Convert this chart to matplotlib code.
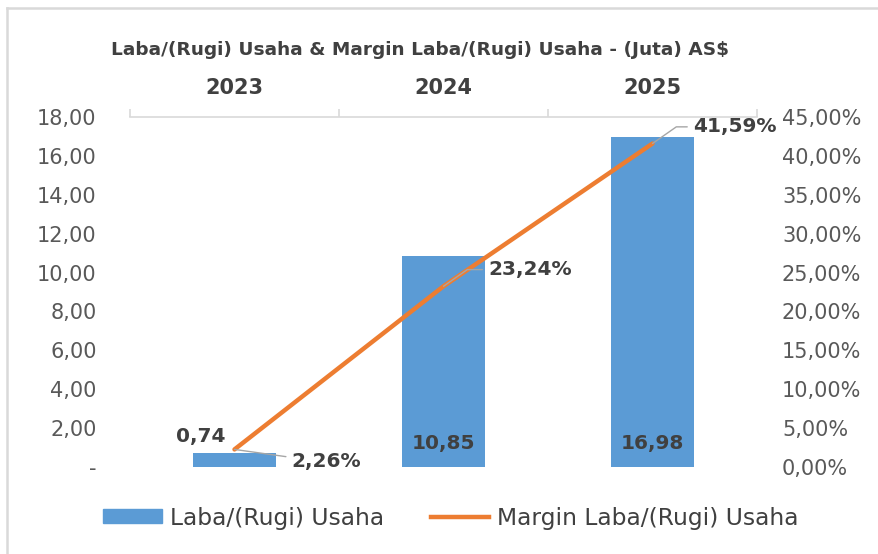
import matplotlib
matplotlib.use("Agg")
import matplotlib.pyplot as plt
from matplotlib.patches import Rectangle
from matplotlib.lines import Line2D
from matplotlib.ticker import FixedLocator

years = ["2023", "2024", "2025"]
laba = [0.74, 10.85, 16.98]
margin = [2.26, 23.24, 41.59]
laba_labels = ["0,74", "10,85", "16,98"]
margin_labels = ["2,26%", "23,24%", "41,59%"]
left_ticks = [0, 2, 4, 6, 8, 10, 12, 14, 16, 18]
left_ticklabels = ["-", "2,00", "4,00", "6,00", "8,00", "10,00", "12,00", "14,00", "16,00", "18,00"]
right_ticks = [0, 5, 10, 15, 20, 25, 30, 35, 40, 45]
right_ticklabels = ["0,00%", "5,00%", "10,00%", "15,00%", "20,00%", "25,00%", "30,00%", "35,00%", "40,00%", "45,00%"]
title = "Laba/(Rugi) Usaha & Margin Laba/(Rugi) Usaha - (Juta) AS$"
legend_labels = ["Laba/(Rugi) Usaha", "Margin Laba/(Rugi) Usaha"]

BLUE = "#5B9BD5"
ORANGE = "#ED7D31"
TICK = "#595959"
LBL = "#404040"
GRID = "#D9D9D9"

plt.rcParams['font.family'] = ['DejaVu Sans']

W, H = 879, 554
fig = plt.figure(figsize=(W / 100, H / 100), dpi=100)

# chart border (only left and top edges visible)
fig.add_artist(Line2D([7 / W, 7 / W], [0, 1 - 8 / H], transform=fig.transFigure, color=GRID, linewidth=1.8))
fig.add_artist(Line2D([7 / W, 1.01], [1 - 8 / H, 1 - 8 / H], transform=fig.transFigure, color=GRID, linewidth=1.8))

ax = fig.add_axes([130 / W, 1 - 467 / H, (757 - 130) / W, (467 - 117) / H])
x = list(range(len(years)))
ax.bar(x, laba, width=0.4, color=BLUE, zorder=2)
ax.set_xlim(-0.5, 2.5)
ax.set_ylim(0, 18)
ax.yaxis.set_major_locator(FixedLocator(left_ticks))
ax.set_yticklabels(left_ticklabels)
ax.tick_params(axis='y', length=0, labelsize=15, labelcolor=TICK, pad=24)

for s in ["left", "right", "bottom"]:
    ax.spines[s].set_visible(False)
ax.spines["top"].set_color(GRID)
ax.spines["top"].set_linewidth(1.2)

ax.xaxis.tick_top()
ax.set_xticks(x)
ax.set_xticklabels(years, fontsize=15, fontweight='bold', color=LBL)
ax.tick_params(axis='x', which='major', length=0, pad=14)
ax.set_xticks([-0.5, 0.5, 1.5, 2.5], minor=True)
ax.tick_params(axis='x', which='minor', length=6, color=GRID, width=1.2, top=True, bottom=False)

ax2 = ax.twinx()
ax2.plot(x, margin, color=ORANGE, linewidth=3.2, zorder=3, solid_capstyle='round')
ax2.set_ylim(0, 45)
ax2.yaxis.set_major_locator(FixedLocator(right_ticks))
ax2.set_yticklabels(right_ticklabels)
ax2.tick_params(axis='y', length=0, labelsize=15, labelcolor=TICK, pad=18)
for s in ax2.spines.values():
    s.set_visible(False)

# bar labels
ax.annotate(laba_labels[0], (x[0], laba[0]), xytext=(-24, 11.5), textcoords='offset points',
            ha='center', va='center', fontsize=14.5, fontweight='bold', color=LBL)
for i in (1, 2):
    ax.annotate(laba_labels[i], (x[i], 0), xytext=(0, 17), textcoords='offset points',
                ha='center', va='center', fontsize=14.5, fontweight='bold', color=LBL)

# margin labels with leader lines
offs = [(41, -8.5), (32, 12), (29, 12)]
angles = [-8, 35, 35]
for i in range(3):
    ax2.annotate(margin_labels[i], (x[i], margin[i]), xytext=offs[i], textcoords='offset points',
                 ha='left', va='center', fontsize=14.5, fontweight='bold', color=LBL, zorder=5,
                 arrowprops=dict(arrowstyle='-', color='#A6A6A6', lw=1,
                                 connectionstyle='angle,angleA=0,angleB=%d,rad=0' % angles[i],
                                 shrinkA=2, shrinkB=0))

fig.text(420 / W, 1 - 50 / H, title, ha='center', va='center', fontsize=13.3, fontweight='bold', color=LBL)

handles = [Rectangle((0, 0), 1, 1, color=BLUE), Line2D([0], [0], color=ORANGE, linewidth=3.2)]
fig.legend(handles, legend_labels, loc='center', bbox_to_anchor=(451 / W, 1 - 518 / H),
           ncol=2, frameon=False, fontsize=16.8, labelcolor=LBL, handlelength=2.5, handleheight=0.55,
           columnspacing=2.0, handletextpad=0.35)

fig.savefig("out.png", dpi=100)
